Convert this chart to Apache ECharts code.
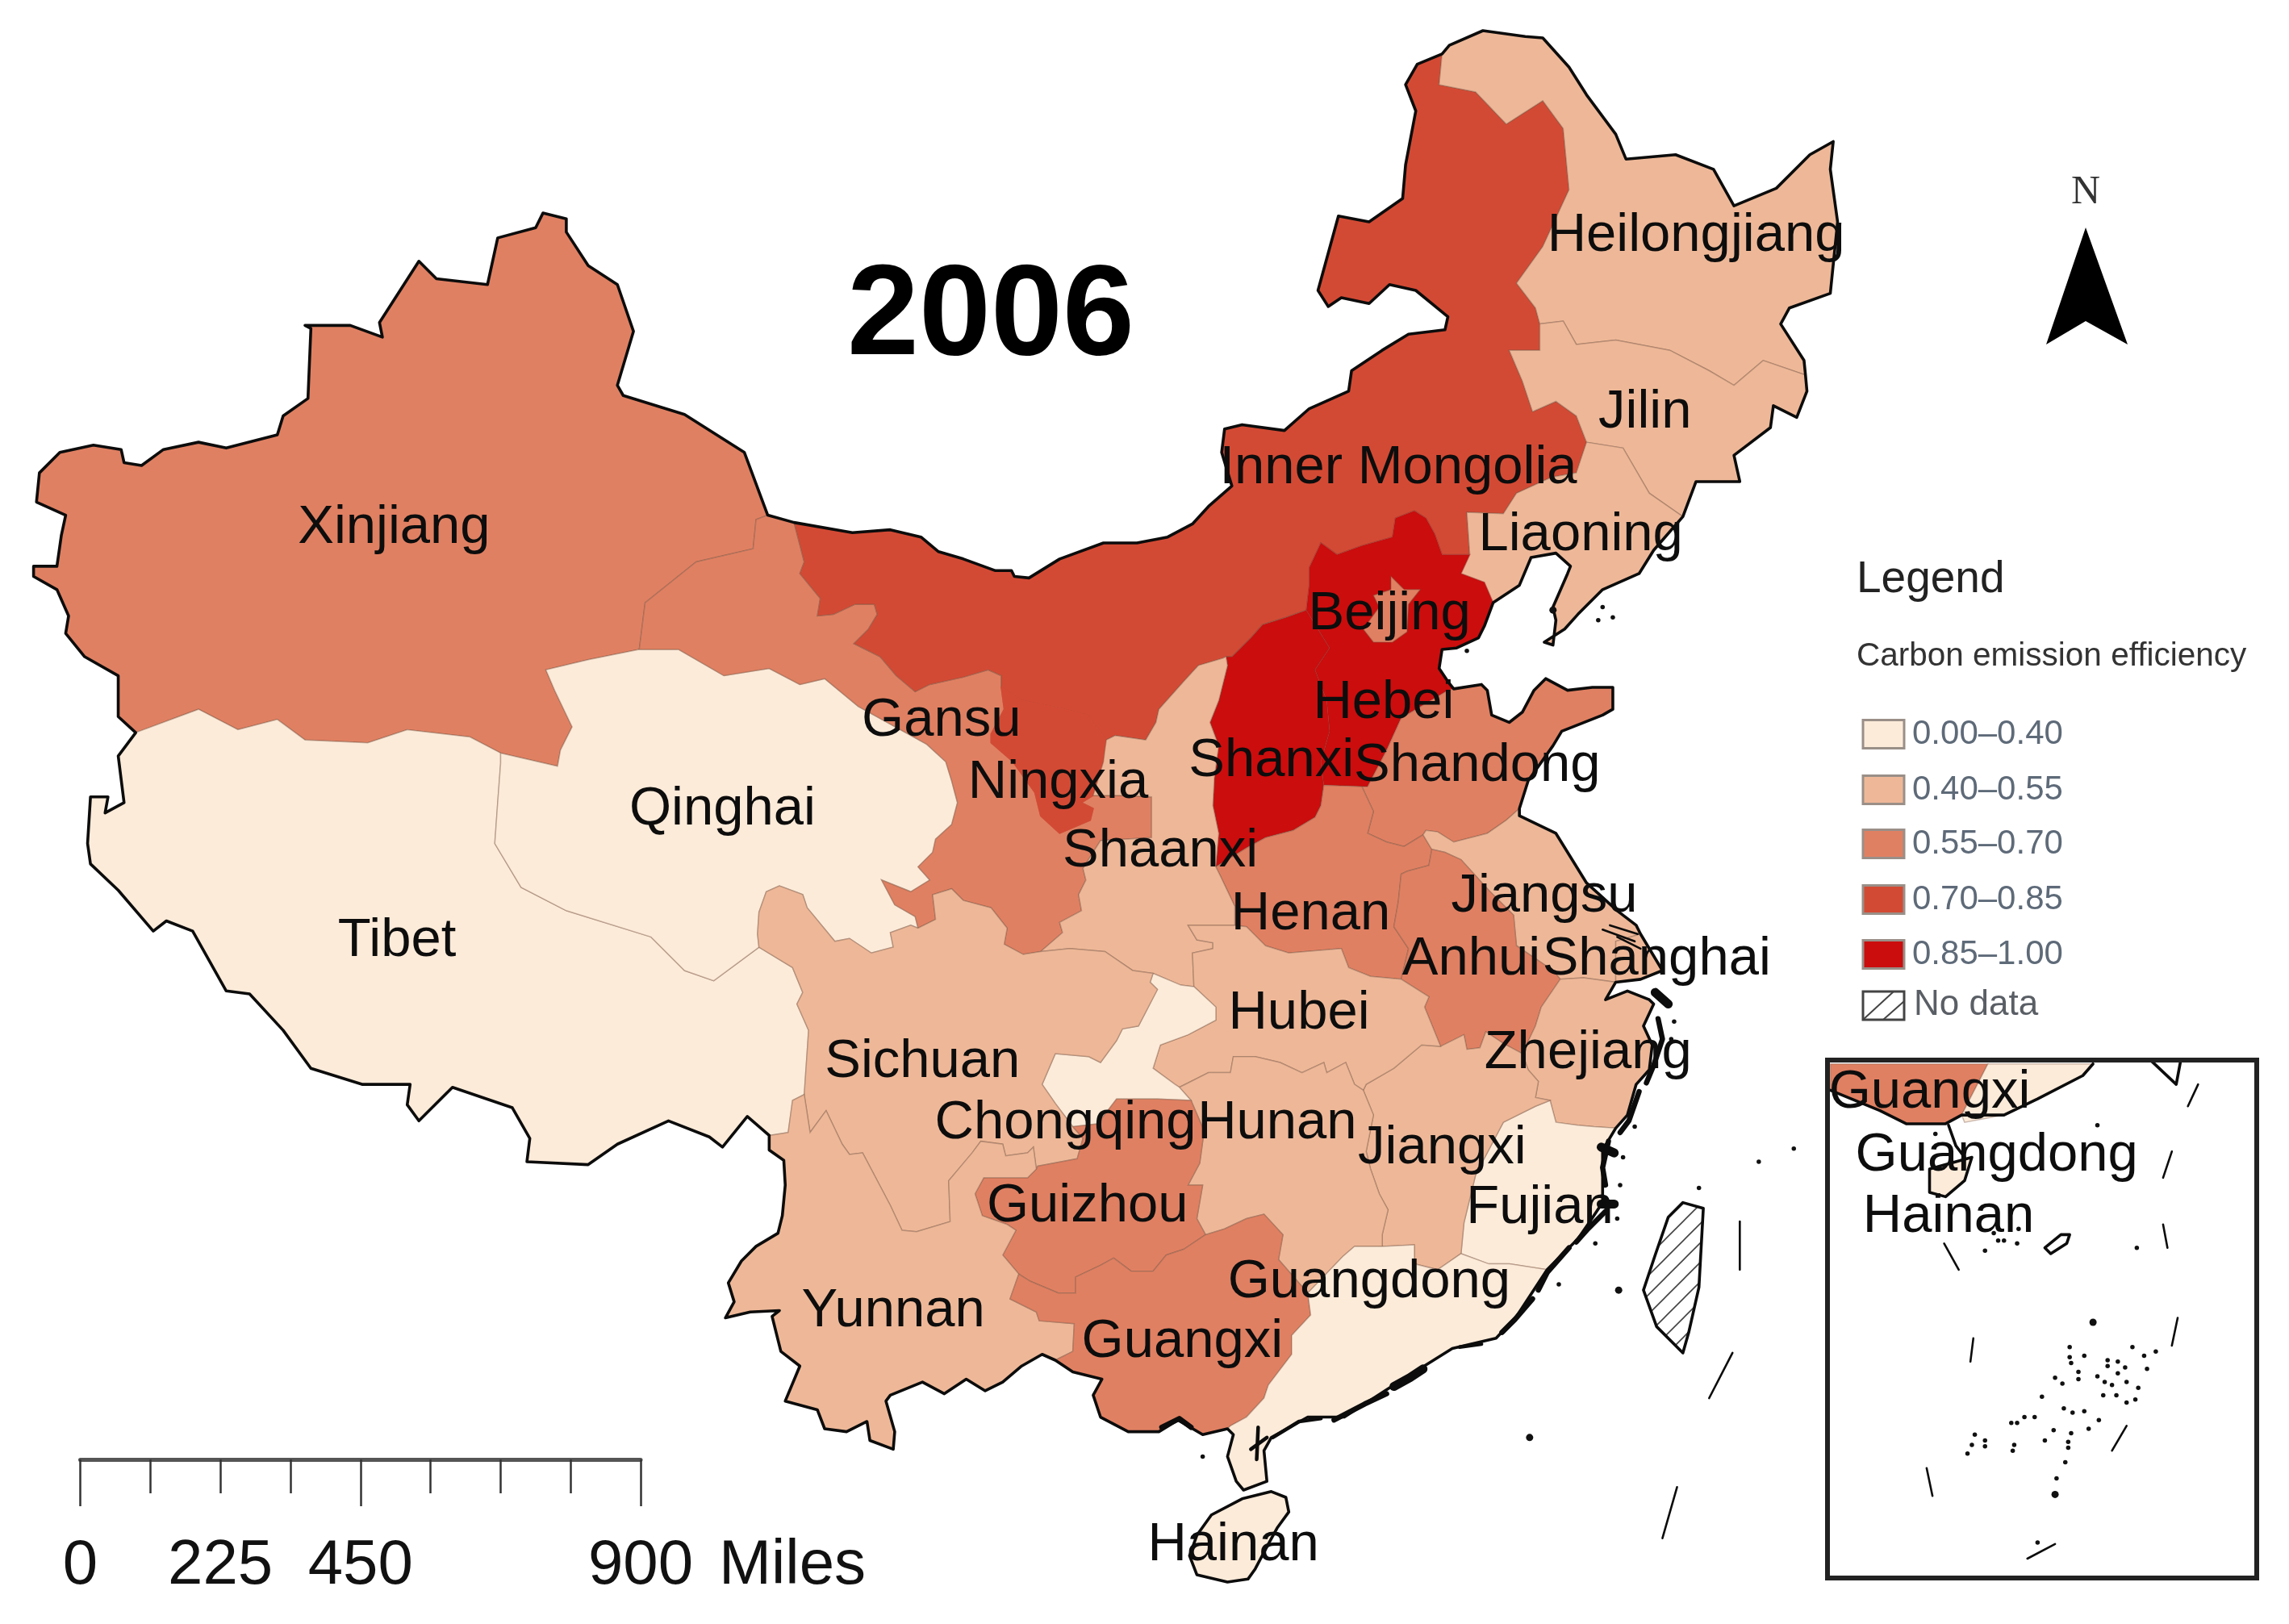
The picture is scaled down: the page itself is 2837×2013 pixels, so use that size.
<!DOCTYPE html>
<html><head><meta charset="utf-8">
<style>html,body{margin:0;padding:0;background:#fff}#c{width:2837px;height:2013px}</style>
<script src="https://cdn.jsdelivr.net/npm/echarts@6/dist/echarts.min.js"></script>
</head><body><div id="c"></div>
<script>
// ---------- chart values ----------
const provinces = ['Xinjiang','Tibet','Qinghai','Gansu','Ningxia','Inner Mongolia','Heilongjiang','Jilin','Liaoning','Hebei','Beijing','Shanxi','Shandong','Henan','Shaanxi','Jiangsu','Shanghai','Anhui','Zhejiang','Fujian','Jiangxi','Hubei','Hunan','Chongqing','Sichuan','Guizhou','Yunnan','Guangxi','Guangdong','Hainan','Guangxi inset','Guangdong inset','Hainan inset'];
const efficiency = [0.60,0.30,0.32,0.62,0.75,0.78,0.50,0.48,0.52,0.92,0.64,0.90,0.66,0.63,0.47,0.50,0.54,0.61,0.49,0.36,0.46,0.45,0.47,0.33,0.44,0.58,0.46,0.60,0.38,0.35,0.60,0.38,0.35];
const legendTitle = 'Legend';
const legendSubtitle = 'Carbon emission efficiency';
const classLabels = ['0.00–0.40','0.40–0.55','0.55–0.70','0.70–0.85','0.85–1.00'];
const classBreaks = [0,0.4,0.55,0.7,0.85,1];
const classColors = ['#FDEBD9','#EEB898','#E08062','#D34A34','#CB0D0D'];
const noDataLabel = 'No data';
const yearLabel = '2006';
const scaleLabels = [0,225,450,900];
const scaleUnit = 'Miles';

// ---------- map geometry (image units, 1 unit = 1/1.809 px) ----------
const arcs = {
oXJ:[[93,502],[81,491],[81,463],[58,450],[45,434],[47,422],[39,404],[23,395],[23,388],[39,388],[42,367],[45,353],[25,344],[27,324],[41,310],[64,305],[83,308],[85,317],[97,319],[112,308],[136,303],[155,307],[190,298],[194,285],[211,273],[213,225],[209,223],[240,223],[262,231],[260,221],[287,179],[299,191],[334,195],[341,163],[367,156],[372,146],[388,150],[388,159],[403,182],[423,195],[434,227],[423,264],[427,271],[469,284],[510,310],[526,353]],
oGS:[[526,353],[544,358]],
oIM:[[544,358],[584,365],[610,363],[631,368],[643,378],[660,383],[682,391],[693,391],[695,395],[705,396],[726,383],[756,372],[779,372],[800,368],[817,359],[828,347],[844,333],[837,310],[839,294],[851,291],[880,295],[897,280],[924,268],[926,254],[947,240],[965,229],[990,226],[992,217],[970,199],[952,195],[938,208],[919,204],[910,210],[903,199],[917,148],[938,152],[961,136],[963,113],[970,76],[963,58],[971,44],[988,37]],
oHL:[[988,37],[993,31],[1016,21],[1045,25],[1057,26],[1075,46],[1087,65],[1107,92],[1114,109],[1148,106],[1174,116],[1188,141],[1217,129],[1240,106],[1256,97],[1254,116],[1259,152],[1254,201],[1226,211],[1220,222],[1236,247],[1237,257]],
oJL:[[1237,257],[1238,268],[1231,286],[1215,278],[1213,293],[1188,312],[1192,330],[1162,330],[1153,354]],
oLN:[[1153,354],[1133,377],[1123,393],[1098,404],[1081,421],[1072,431],[1058,440],[1064,442],[1066,425],[1064,416],[1074,393],[1076,388],[1066,379],[1049,382],[1041,401],[1023,413]],
oHB:[[1023,413],[1017,429],[1013,437],[998,444],[988,445],[986,458],[992,467],[996,472]],
oSD:[[996,472],[1015,469],[1019,473],[1022,490],[1034,495],[1043,488],[1051,473],[1059,465],[1074,473],[1091,471],[1105,471],[1105,486],[1098,490],[1070,501],[1064,511],[1047,535],[1041,554]],
oJS:[[1041,554],[1041,559],[1066,571],[1087,605],[1108,624],[1121,634],[1124,640]],
oSH:[[1124,640],[1139,665],[1124,671],[1107,673]],
oZJ:[[1107,673],[1100,685],[1115,679],[1130,685],[1133,688],[1126,703],[1132,716],[1130,733],[1121,743],[1115,764],[1107,773]],
oFJ:[[1107,773],[1098,788],[1098,807],[1098,824],[1090,836],[1081,849],[1060,870]],
oGD:[[1060,870],[1039,902],[1025,917],[995,924],[955,949],[921,971],[896,971],[871,985],[866,994],[868,1015],[852,1021],[847,1015],[841,998],[845,983],[841,979]],
oGX:[[841,979],[824,983],[807,973],[794,981],[773,981],[754,971],[749,956],[755,945],[735,940],[723,932]],
oYN:[[723,932],[714,928],[700,936],[687,947],[675,953],[662,945],[647,955],[632,947],[610,956],[607,960],[613,981],[612,993],[596,987],[594,974],[580,981],[565,979],[560,966],[538,960],[548,936],[535,926],[529,902],[534,898],[514,899],[497,903],[503,892],[499,879],[508,864],[518,854],[533,845],[536,833],[538,812],[537,795],[527,788],[527,778]],
oTB:[[527,778],[512,765],[495,786],[486,779],[458,768],[423,784],[403,798],[361,796],[363,780],[351,759],[310,745],[287,768],[279,757],[281,743],[248,743],[213,732],[194,706],[171,681],[155,679],[132,638],[114,631],[105,638],[81,610],[62,592],[60,578],[62,546],[74,546],[72,557],[85,550],[81,518],[93,502]],
XT:[[93,502],[136,486],[163,500],[190,493],[209,507],[252,509],[279,500],[322,505],[343,516]],
XQ:[[343,516],[382,525],[384,514],[392,498],[380,473],[374,459],[403,452],[438,445]],
XG:[[526,353],[518,356],[516,376],[477,385],[442,413],[438,445]],
QT:[[343,516],[343,523],[341,550],[339,578],[357,608],[388,624],[446,642],[469,665],[489,672],[520,649]],
TS:[[520,649],[543,663],[550,680],[546,688],[554,706],[551,750]],
TY:[[551,750],[543,754],[540,776],[527,778]],
QG:[[438,445],[465,445],[496,463],[527,458],[548,469],[565,465],[588,484],[635,510],[648,522],[652,535],[656,550],[652,565],[641,575],[639,584],[629,594],[637,603],[624,611],[604,603],[613,620],[627,628],[629,636]],
QS:[[629,636],[624,634],[610,639],[612,649],[597,653],[582,643],[572,645],[553,622],[550,613],[534,607],[525,611],[520,625],[519,640],[520,649]],
GI:[[544,358],[551,385],[548,393],[562,410],[560,422],[571,421],[586,414],[599,414],[601,421],[595,431],[585,441],[603,450],[614,463],[627,474],[637,469],[660,464],[677,459],[686,463],[686,471]],
GN:[[686,471],[688,486],[679,503],[679,509],[694,522],[709,543],[713,559],[726,571],[747,562],[749,554],[741,550],[749,545]],
GSx:[[713,652],[728,639],[726,632],[741,624],[739,613],[744,603],[742,595],[754,576],[789,574],[789,546],[770,545],[749,545]],
GSi:[[629,636],[641,630],[639,613],[652,609],[660,617],[679,622],[690,636],[688,647],[701,654],[713,652]],
IN:[[686,471],[700,480],[725,485],[745,490],[758,507]],
NSx:[[758,507],[757,514],[756,522],[749,545]],
ISx:[[758,507],[764,504],[785,507],[792,495],[794,486],[811,467],[821,456],[838,451],[840,450]],
ISh:[[840,450],[844,450],[857,437],[865,428],[881,423],[895,418]],
IH:[[895,418],[897,401],[897,389],[905,372],[916,380],[933,374],[954,368],[956,355],[969,350],[977,355],[983,366],[988,380],[1001,380],[1007,380]],
IL:[[1007,380],[1005,351],[1030,352],[1039,338],[1063,327],[1080,324],[1087,303]],
IJ:[[1087,303],[1080,285],[1066,275],[1050,282],[1043,261],[1034,240],[1055,240],[1055,222]],
IHL:[[1055,222],[1052,211],[1039,194],[1057,169],[1075,130],[1071,88],[1057,69],[1032,85],[1011,63],[986,58],[988,37]],
HJ:[[1055,222],[1071,220],[1080,236],[1107,233],[1144,240],[1171,254],[1188,264],[1208,247],[1237,257]],
JL:[[1087,303],[1112,307],[1130,338],[1153,354]],
HbL:[[1007,380],[1001,393],[1017,399],[1023,413]],
ShHb:[[895,418],[911,444],[901,459],[909,480],[911,501],[905,522],[907,538]],
HbSd:[[996,472],[992,473],[960,492],[950,514],[937,539],[933,539]],
ShHn:[[907,538],[905,552],[901,560],[886,569],[867,574],[854,581],[833,594]],
HbHn:[[907,538],[933,539]],
ShSx:[[840,450],[841,456],[835,480],[829,495],[835,511],[832,533],[831,552],[835,571],[833,594]],
HnSx:[[833,594],[836,600],[846,621],[846,634]],
SxHu:[[846,634],[814,634],[820,644],[831,646],[831,650],[817,653],[818,676]],
SxC:[[818,676],[809,675],[790,667]],
SxSi:[[790,667],[776,665],[757,652],[733,650],[713,652]],
HnHu:[[846,634],[854,635],[867,648],[883,653],[919,650],[924,663],[939,669],[960,671]],
HnSd:[[933,539],[941,556],[937,571],[950,577],[962,580],[975,572]],
SdJs:[[975,572],[977,569],[985,570],[996,577],[1019,571],[1032,562],[1041,554]],
HnJs:[[975,572],[981,582]],
HnAh:[[981,582],[979,593],[964,597],[960,599],[958,618],[955,635],[965,650],[960,671]],
AhJs:[[981,582],[990,584],[1001,589],[1020,610],[1037,627],[1039,648],[1064,665],[1069,671]],
AhHu:[[960,671],[979,683],[976,690],[987,717]],
AhJx:[[987,717],[1003,709],[1005,719],[1014,718],[1018,707],[1030,715],[1043,722]],
AhZj:[[1043,722],[1052,703],[1056,690],[1069,671]],
JsZj:[[1069,671],[1085,670],[1107,673]],
JsSh:[[1124,640],[1107,645],[1107,673]],
HuJx:[[934,747],[936,743],[955,732],[974,716],[987,717]],
HuHn:[[808,745],[816,741],[828,735],[843,735],[845,724],[860,724],[877,728],[892,735],[907,728],[909,735],[922,728],[928,743],[934,747]],
HuC:[[818,676],[833,690],[833,699],[814,709],[795,716],[790,732],[805,743],[808,745]],
CHn:[[808,745],[816,754]],
CGz:[[816,754],[793,753],[765,753],[752,770],[735,772]],
SiC:[[735,772],[723,756],[714,743],[723,722],[746,724],[754,728],[765,713],[769,705],[780,703],[793,678],[788,673],[790,667]],
SiGz:[[735,772],[742,780],[738,794],[711,799],[710,801]],
SiY:[[551,750],[555,776],[566,761],[577,784],[582,791],[591,790],[610,826],[618,843],[628,844],[651,837],[650,809],[666,790],[672,782],[687,784],[689,792],[704,790],[708,786],[710,801]],
GzY:[[710,801],[704,807],[690,807],[674,807],[668,818],[673,833],[690,839],[696,843],[687,860],[698,873]],
GzGx:[[698,873],[706,878],[725,886],[737,886],[737,875],[754,867],[763,862],[775,871],[790,871],[799,860],[811,856],[826,846]],
YGx:[[723,932],[735,926],[736,907],[712,905],[710,899],[692,890],[698,873]],
HnGz:[[816,754],[825,775],[822,797],[814,812],[824,812],[820,835],[826,846]],
HnGx:[[826,846],[839,842],[854,835],[866,832],[879,846],[876,863],[896,886]],
HnGd:[[896,886],[920,861],[928,854],[947,854]],
HnJx:[[947,854],[947,846],[951,829],[945,818],[939,801],[936,789],[941,764],[934,747]],
JxGd:[[947,854],[969,853],[969,866],[985,870],[1001,859]],
JxFj:[[1001,859],[1003,838],[1011,805],[1030,769],[1052,758],[1062,754]],
JxZj:[[1043,722],[1047,733],[1054,741],[1052,752],[1062,754]],
ZjFj:[[1062,754],[1066,769],[1081,771],[1092,772],[1107,773]],
FjGd:[[1001,859],[1020,866],[1034,866],[1060,870]],
GdGx:[[896,886],[898,901],[885,915],[885,928],[869,949],[866,958],[854,971],[843,977],[841,979]]
};
const rings = {
'Xinjiang':'oXJ XG -XQ -XT',
'Tibet':'XT QT TS TY oTB',
'Qinghai':'XQ QG QS -QT',
'Gansu':'oGS GI GN -GSx -GSi -QG -XG',
'Inner Mongolia':'oIM -IHL -IJ -IL -IH -ISh -ISx -IN -GI',
'Ningxia':'IN NSx -GN',
'Heilongjiang':'oHL -HJ IHL',
'Jilin':'HJ oJL -JL IJ',
'Liaoning':'JL oLN -HbL IL',
'Shanxi':'ISh ShHb ShHn -ShSx',
'Hebei':'IH HbL oHB HbSd -HbHn -ShHb',
'Shandong':'oSD -SdJs -HnSd -HbSd',
'Henan':'HbHn HnSd HnJs HnAh -HnHu -HnSx -ShHn',
'Shaanxi':'ShSx HnSx SxHu SxC SxSi GSx -NSx ISx',
'Jiangsu':'SdJs oJS JsSh -JsZj -AhJs -HnJs',
'Shanghai':'oSH -JsSh',
'Anhui':'AhJs -AhZj -AhJx -AhHu -HnAh',
'Zhejiang':'JsZj oZJ -ZjFj -JxZj AhZj',
'Fujian':'ZjFj oFJ -FjGd JxFj',
'Jiangxi':'HuJx AhJx JxZj -JxFj -JxGd HnJx',
'Hubei':'HnHu AhHu -HuJx -HuHn -HuC -SxHu',
'Hunan':'HuHn -HnJx -HnGd -HnGx -HnGz -CHn',
'Chongqing':'SiC -SxC HuC CHn CGz',
'Sichuan':'QS TS SiY -SiGz SiC SxSi -GSi',
'Guizhou':'SiGz GzY GzGx -HnGz CGz',
'Yunnan':'SiY GzY -YGx oYN -TY',
'Guangxi':'YGx GzGx HnGx GdGx oGX',
'Guangdong':'HnGd JxGd FjGd oGD -GdGx'
};
const beijingRing = [[953,395],[962,404],[973,404],[965,414],[964,433],[954,440],[941,440],[934,431],[945,416],[941,408],[953,404]];
const hainanRing = [[851,1027],[871,1022],[881,1026],[883,1036],[875,1047],[869,1058],[860,1075],[855,1082],[841,1084],[820,1079],[815,1066],[820,1052],[830,1038]];
const taiwanRing = [[1167,828],[1153,824],[1143,834],[1134,860],[1126,884],[1135,909],[1153,927],[1157,913],[1164,882]];
const insetGuangxi = [[1254,729],[1362,729],[1344,764],[1333,770],[1306,770],[1288,761],[1254,747]];
const insetGuangdong = [[1362,729],[1434,729],[1427,737],[1396,753],[1373,764],[1346,769],[1344,764]];
const insetHainan = [[1322,801],[1351,793],[1346,809],[1333,820],[1322,817]];
const insetCoast = [[1254,747],[1288,761],[1306,770],[1333,770],[1344,764],[1373,764],[1396,753],[1427,737],[1434,729]];
const insetPeninsula = [[1335,771],[1340,785],[1346,793]];
const insetTaiwan = [[1474,727],[1491,743],[1494,727]];
const insetReef = [[1401,855],[1412,846],[1418,846],[1416,852],[1405,859],[1401,855]];
const dashes = [
 [[1192,837],[1192,870]],[[1187,927],[1171,958]],[[1149,1019],[1139,1054]],
 [[1506,743],[1499,758]],[[1488,789],[1482,807]],[[1482,839],[1485,855]],[[1492,903],[1488,922]],
 [[1457,977],[1447,994]],[[1408,1058],[1389,1068]],[[1320,1006],[1324,1025]],[[1352,917],[1350,933]],[[1332,852],[1342,870]],
 [[1098,637],[1120,645]],[[1103,634],[1122,640]],[[1108,642],[1124,650]]
];
// dense island chains that thicken the coast
const chainsHeavy = [[[955,950],[966,944],[975,938]],[[1097,786],[1106,790]],[[1097,825],[1106,825]],[[1134,680],[1143,688]]];
const chainsMedium = [[[1136,698],[1139,712],[1133,730],[1128,742]],[[1123,748],[1116,768],[1110,776]],[[1102,782],[1098,800],[1100,812]],[[1100,830],[1088,842],[1080,851]],[[1075,855],[1060,872],[1054,884]],[[1050,890],[1038,904],[1029,913]],[[796,978],[808,972],[816,978]],[[914,973],[935,962],[950,955]]];
const chainsThin = [[[857,993],[868,985]],[[862,978],[861,1000]],[[1000,923],[1015,921]],[[872,985],[890,974],[905,972]]];
const isletsLarge = [[1064,418],[1109,884],[1048,985],[1408,1024],[1434,906]];
const isletsSmall = [[1005,446],[1098,416],[1105,423],[1095,425],[1205,796],[1229,787],[1164,814],[824,998],[1437,771],[1464,855],[1369,850],[1373,850],[1382,852],[1360,857],[1366,845],[1383,842],[1418,923],[1418,930],[1428,929],[1419,934],[1424,940],[1413,948],[1408,944],[1424,945],[1444,932],[1444,936],[1451,933],[1456,937],[1461,923],[1469,929],[1477,926],[1471,938],[1437,943],[1451,941],[1447,949],[1457,947],[1465,951],[1442,947],[1441,956],[1450,956],[1457,961],[1463,959],[1399,957],[1414,965],[1420,968],[1428,967],[1387,971],[1394,971],[1378,975],[1382,975],[1438,973],[1431,979],[1419,982],[1407,980],[1401,987],[1417,988],[1417,992],[1415,1002],[1409,1013],[1360,987],[1360,991],[1353,983],[1351,990],[1348,996],[1380,990],[1379,994],[1396,1057],[1326,777],[1147,700],[1145,712],[1120,772],[1112,793],[1110,812],[1108,835],[1093,852],[1068,880]];

const toGeo = p => [p[0], -p[1]];
const ringOf = spec => { const pts=[]; spec.split(' ').forEach(t=>{ const a = t[0]==='-' ? [...arcs[t.slice(1)]].reverse() : arcs[t]; pts.push(...a); }); return pts; };
const feat = (name, pts) => { const c = pts.map(toGeo); c.push(c[0]); return {type:'Feature',properties:{name},geometry:{type:'Polygon',coordinates:[c]}}; };
const features = Object.keys(rings).map(n=>feat(n, ringOf(rings[n])));
features.push(feat('Beijing',beijingRing), feat('Hainan',hainanRing), feat('Taiwan',taiwanRing),
  feat('Guangxi inset',insetGuangxi), feat('Guangdong inset',insetGuangdong), feat('Hainan inset',insetHainan));
echarts.registerMap('china2006',{type:'FeatureCollection',features});

const outline = ['oXJ','oGS','oIM','oHL','oJL','oLN','oHB','oSD','oJS','oSH','oZJ','oFJ','oGD','oGX','oYN','oTB'].flatMap(k=>arcs[k]);
const outlines = [outline,[...hainanRing,hainanRing[0]],[...taiwanRing,taiwanRing[0]],[...insetHainan,insetHainan[0]],insetCoast,insetPeninsula,insetTaiwan,insetReef];

// label anchors in map units
const labelAnchors = [['Heilongjiang',1162,160],['Jilin',1127,281],['Inner Mongolia',958,319],['Liaoning',1083,365],['Beijing',952,419],['Xinjiang',270,360],['Hebei',948,480],['Gansu',645,492],['Qinghai',495,553],['Ningxia',725,535],['Shanxi',871,520],['Shandong',1012,523],['Shaanxi',795,582],['Tibet',272,643],['Henan',898,625],['Jiangsu',1058,613],['Anhui',1008,656],['Shanghai',1135,656],['Hubei',890,693],['Zhejiang',1088,720],['Sichuan',632,726],['Chongqing',730,768],['Hunan',875,768],['Jiangxi',988,785],['Fujian',1055,826],['Guizhou',745,825],['Guangdong',938,877],['Yunnan',612,897],['Guangxi',810,918],['Hainan',845,1057],['Guangxi',1322,747],['Guangdong',1368,790],['Hainan',1335,832]];

// hatch pattern for the "no data" region
const hatch = document.createElement('canvas'); hatch.width=24; hatch.height=24;
(function(){const g=hatch.getContext('2d');g.strokeStyle='#444';g.lineWidth=1.6;g.beginPath();g.moveTo(-2,26);g.lineTo(26,-2);g.moveTo(-14,14);g.lineTo(14,-14);g.moveTo(10,38);g.lineTo(38,10);g.stroke();})();

const U = 1.809, FONT='"Liberation Sans",Arial,sans-serif';
const legendGraphics = [];
const swatchX=2309, swatchW=51, swatchH=35, rowY=[910,979,1046,1115,1183];
classLabels.forEach((t,i)=>{
  legendGraphics.push({type:'rect',shape:{x:swatchX,y:rowY[i]-swatchH/2,width:swatchW,height:swatchH},style:{fill:classColors[i],stroke:'#9a8f88',lineWidth:3}});
  legendGraphics.push({type:'text',x:2370,y:rowY[i],style:{text:t,font:'42px '+FONT,fill:'#5e6a78',textVerticalAlign:'middle'}});
});
legendGraphics.push(
 {type:'rect',shape:{x:swatchX,y:1229,width:swatchW,height:35},style:{fill:'#fff',stroke:'#444',lineWidth:3}},
 {type:'line',shape:{x1:swatchX,y1:1264,x2:swatchX+38,y2:1229},style:{stroke:'#444',lineWidth:2}},
 {type:'line',shape:{x1:swatchX+25,y1:1264,x2:swatchX+51,y2:1241},style:{stroke:'#444',lineWidth:2}},
 {type:'text',x:2372,y:1246,style:{text:noDataLabel,font:'44px '+FONT,fill:'#5a5f66',textVerticalAlign:'middle'}},
 {type:'text',x:2301,y:719,style:{text:legendTitle,font:'55px '+FONT,fill:'#222',textVerticalAlign:'middle'}},
 {type:'text',x:2301,y:814,style:{text:legendSubtitle,font:'40.5px '+FONT,fill:'#333',textVerticalAlign:'middle'}},
 {type:'text',x:2585,y:239,style:{text:'N',font:'50px "Liberation Serif",serif',fill:'#333',textAlign:'center',textVerticalAlign:'middle'}},
 {type:'polygon',shape:{points:[[2585,282],[2637,427],[2585,398],[2536,427]]},style:{fill:'#000'}},
 {type:'rect',shape:{x:2265,y:1314,width:532,height:642},style:{fill:'none',stroke:'#222',lineWidth:6},z:50},
 {type:'text',x:891,y:1941,style:{text:scaleUnit,font:'78px '+FONT,fill:'#111',textVerticalAlign:'middle'}}
);
const chainSeries = (data,width) => ({type:'lines',coordinateSystem:'geo',polyline:true,silent:true,z:5,
  lineStyle:{color:'#0c0c0c',width,opacity:1,cap:'round',join:'round'},data:data.map(c=>({coords:c.map(toGeo)}))});

const chart = echarts.init(document.getElementById('c'),null,{renderer:'canvas'});
chart.setOption({
  backgroundColor:'#fff',
  animation:false,
  title:{text:yearLabel,left:1223,top:390,textAlign:'center',textVerticalAlign:'middle',textStyle:{fontFamily:FONT,fontWeight:'bold',fontSize:160,color:'#000'}},
  geo:{map:'china2006',silent:true,roam:false,aspectScale:1,left:0,top:0,width:2837,height:2013,
    boundingCoords:[[0,0],[2837/U,-2013/U]],
    label:{show:false},
    itemStyle:{areaColor:'#fff',borderColor:'rgba(120,85,65,0.38)',borderWidth:1.5},
    regions:[
      {name:'Taiwan',itemStyle:{areaColor:{image:hatch,repeat:'repeat'},borderColor:'#111',borderWidth:2}},
      {name:'Ningxia',itemStyle:{borderColor:'#D34A34',borderWidth:1.5}},
      {name:'Hebei',itemStyle:{borderColor:'rgba(150,30,25,0.3)',borderWidth:1.5}}
    ]
  },
  visualMap:{show:false,type:'piecewise',seriesIndex:0,
    pieces:classColors.map((c,i)=>({gte:classBreaks[i],lt:classBreaks[i+1],color:c,label:classLabels[i]}))},
  grid:{left:99.5,width:694.5,top:1809,height:0,containLabel:false},
  xAxis:{type:'value',min:0,max:900,interval:450,position:'bottom',
    axisLine:{show:true,lineStyle:{color:'#555',width:5}},
    axisTick:{show:true,length:58,lineStyle:{color:'#333',width:2.5}},
    minorTick:{show:true,splitNumber:4,length:42,lineStyle:{color:'#333',width:2.5}},
    splitLine:{show:false},minorSplitLine:{show:false},
    axisLabel:{customValues:scaleLabels,margin:93,fontFamily:FONT,fontSize:78,color:'#111'}},
  yAxis:{type:'value',show:false},
  series:[
    {type:'map',geoIndex:0,data:provinces.map((n,i)=>({name:n,value:efficiency[i]})),silent:true},
    chainSeries(outlines,3.6),
    chainSeries(dashes,2.6),
    chainSeries(chainsHeavy,11),
    chainSeries(chainsMedium,6.5),
    chainSeries(chainsThin,4.5),
    {type:'scatter',coordinateSystem:'geo',silent:true,z:6,symbolSize:9,itemStyle:{color:'#111',opacity:1},data:isletsLarge.map(toGeo)},
    {type:'scatter',coordinateSystem:'geo',silent:true,z:6,symbolSize:5.5,itemStyle:{color:'#111',opacity:1},data:isletsSmall.map(toGeo)},
    {type:'scatter',coordinateSystem:'geo',silent:true,z:10,symbolSize:1,itemStyle:{color:'rgba(0,0,0,0)',opacity:1},
      label:{show:true,position:'inside',formatter:p=>p.value[2],fontFamily:FONT,fontSize:67,color:'#0d0d0d',opacity:1},
      labelLayout:{hideOverlap:false},
      data:labelAnchors.map(a=>[a[1],-(a[2]+1.7),a[0]])}
  ],
  graphic:{elements:legendGraphics}
});
</script></body></html>
